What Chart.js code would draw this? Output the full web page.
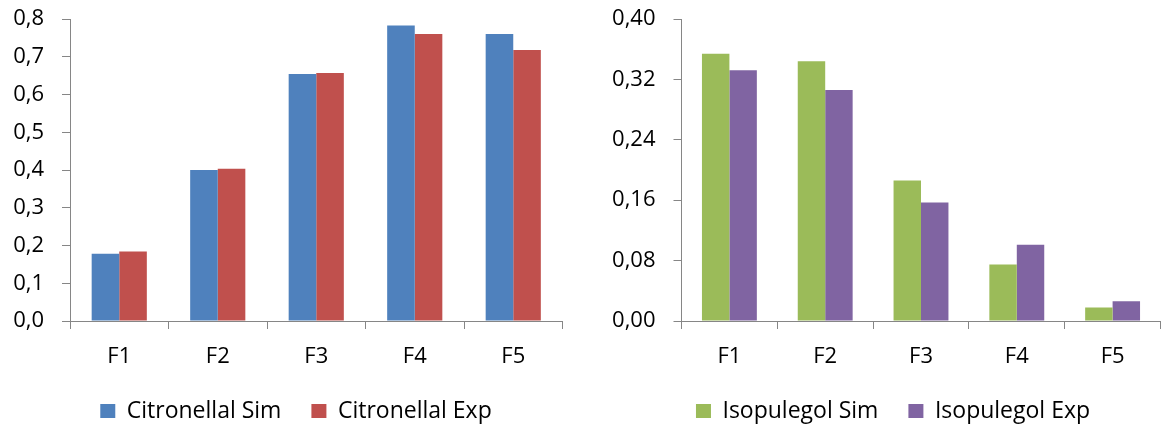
<!DOCTYPE html>
<html><head><meta charset="utf-8">
<script src="https://cdn.jsdelivr.net/npm/chart.js@4"></script>
<style>
html,body{margin:0;padding:0;background:#fff;width:1162px;height:425px;overflow:hidden;position:relative}
.box{position:absolute;top:0;height:425px;width:581px}
#b1{left:0}
#b2{left:581px}
</style></head><body>
<div class="box" id="b1"><canvas id="c1"></canvas></div>
<div class="box" id="b2"><canvas id="c2"></canvas></div>
<script>
const categories = ['F1', 'F2', 'F3', 'F4', 'F5'];
const citronellalSim = [0.178, 0.400, 0.654, 0.783, 0.760];
const citronellalExp = [0.184, 0.403, 0.657, 0.760, 0.718];
const isopulegolSim = [0.354, 0.344, 0.186, 0.075, 0.018];
const isopulegolExp = [0.332, 0.306, 0.157, 0.101, 0.026];
const leftTicks = [0, 0.1, 0.2, 0.3, 0.4, 0.5, 0.6, 0.7, 0.8];
const rightTicks = [0, 0.08, 0.16, 0.24, 0.32, 0.40];

const TICK_FONT = {family: 'Open Sans', size: 22};
const LEGEND_FONT = {family: 'Open Sans', size: 23};
const AXIS = '#868686';
const PLOT_TOP = 19;
const PLOT_BOTTOM = 321;

const legendPlace = {
  id: 'legendPlace',
  afterLayout(chart, args, opts) {
    const L = chart.legend;
    if (!L) return;
    const w = L.right - L.left;
    const pad = L.options.labels.padding;
    L.left = opts.cx - w / 2; L.right = L.left + w;
    L.top = opts.cy - pad - LEGEND_FONT.size / 2;
    L.height = pad + LEGEND_FONT.size + 30;
    L.bottom = L.top + L.height;
  }
};

function makeChart(id, labelsArr, sets, ticksArr, decimals, cfg) {
  return new Chart(document.getElementById(id), {
    type: 'bar',
    data: {
      labels: labelsArr,
      datasets: sets.map(s => ({
        label: s.label, data: s.data, backgroundColor: s.color,
        borderWidth: 0, categoryPercentage: cfg.catPct, barPercentage: 1
      }))
    },
    plugins: [legendPlace],
    options: {
      responsive: true, maintainAspectRatio: false, animation: false,
      layout: {padding: {top: PLOT_TOP, right: cfg.padRight, left: 0, bottom: 0}},
      plugins: {
        tooltip: {enabled: false},
        legend: {
          position: 'bottom', maxHeight: 40,
          labels: {font: LEGEND_FONT, color: '#000', boxWidth: 15, boxHeight: 14, padding: 30}
        },
        legendPlace: {cx: cfg.legendCx, cy: 411}
      },
      scales: {
        x: {
          grid: {display: true, drawOnChartArea: false, drawTicks: true, tickLength: 8, color: AXIS, offset: true},
          border: {color: AXIS, width: 1},
          ticks: {font: TICK_FONT, color: '#000', padding: 15, maxRotation: 0},
          afterFit(s) { s.height = Math.max(0, s.chart.height - PLOT_BOTTOM - (s.chart.legend ? s.chart.legend.height : 0)); }
        },
        y: {
          min: 0, max: ticksArr[ticksArr.length - 1],
          grid: {display: true, drawOnChartArea: false, drawTicks: true, tickLength: 8, color: AXIS},
          border: {color: AXIS, width: 1},
          afterBuildTicks(s) { s.ticks = ticksArr.map(v => ({value: v})); },
          ticks: {
            font: TICK_FONT, color: '#000', padding: 18,
            callback: v => Number(v).toFixed(decimals).replace('.', ',')
          },
          afterFit(s) { s.width = cfg.yWidth; s.paddingTop = 0; }
        }
      }
    }
  });
}

makeChart('c1', categories, [
  {label: 'Citronellal Sim', data: citronellalSim, color: '#4F81BD'},
  {label: 'Citronellal Exp', data: citronellalExp, color: '#C0504D'}
], leftTicks, 1, {catPct: 0.56, padRight: 18.5, yWidth: 70, legendCx: 296});

makeChart('c2', categories, [
  {label: 'Isopulegol Sim', data: isopulegolSim, color: '#9BBB59'},
  {label: 'Isopulegol Exp', data: isopulegolExp, color: '#8064A2'}
], rightTicks, 2, {catPct: 0.573, padRight: 1.5, yWidth: 100.5, legendCx: 312});
</script>
</body></html>
